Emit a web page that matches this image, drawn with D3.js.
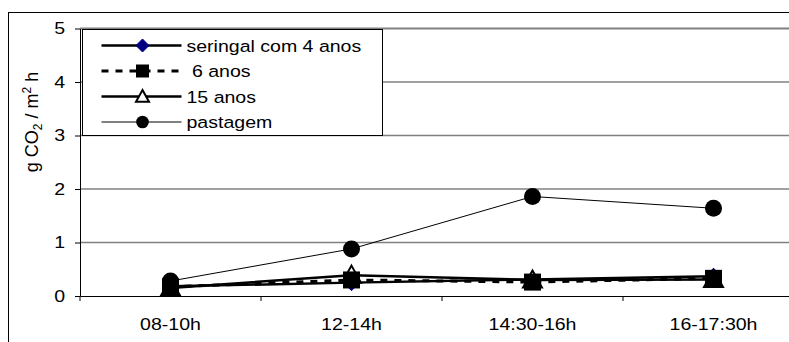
<!DOCTYPE html>
<html>
<head>
<meta charset="utf-8">
<script src="https://cdn.jsdelivr.net/npm/d3@7"></script>
<style>
  body { margin: 0; background: #fff; }
  svg { display: block; font-family: "Liberation Sans", Arial, sans-serif; }
  text { white-space: pre; }
</style>
</head>
<body>
<div id="chart"></div>
<script>
const categories = ["08-10h", "12-14h", "14:30-16h", "16-17:30h"]
const seriesNames = ["seringal com 4 anos", " 6 anos", "15 anos", "pastagem"]
const seringal4 = [0.18, 0.25, 0.31, 0.37]
const seringal6 = [0.17, 0.30, 0.26, 0.33]
const seringal15 = [0.15, 0.39, 0.30, 0.31]
const pastagem = [0.28, 0.88, 1.86, 1.64]
const yTicks = [0, 1, 2, 3, 4, 5]

const W = 789, H = 342
const SX = 1.15 // text in the source looks a bit wide
const fs = 17

const margin = { top: 28.5, left: 80 }
const plotW = 724, plotH = 267.5

const svg = d3.select("#chart").append("svg")
    .attr("width", W)
    .attr("height", H)

// outer chart frame (runs off the right/bottom edge like the source)
svg.append("rect")
    .attr("x", 8.5).attr("y", 12.5)
    .attr("width", 820).attr("height", 360)
    .attr("fill", "#fff")
    .attr("stroke", "#000")

const g = svg.append("g")
    .attr("transform", `translate(${margin.left}, ${margin.top})`)

/* scales */
const x = d3.scaleBand()
    .domain(categories)
    .range([0, plotW])
const y = d3.scaleLinear()
    .domain([0, 5])
    .range([plotH, 0])

/* gridlines */
g.selectAll(".grid")
    .data(yTicks.filter(d => d > 0))
    .enter()
    .append("line")
    .attr("x1", 0).attr("x2", plotW)
    .attr("y1", d => y(d)).attr("y2", d => y(d))
    .attr("stroke", "#808080")
    .attr("stroke-width", d => d === 5 ? 2 : 1.5)

/* y axis */
const yAxis = g.append("g")
    .call(d3.axisLeft(y).tickValues(yTicks).tickFormat(d3.format("d"))
        .tickSize(5).tickSizeOuter(0).tickPadding(8))
yAxis.select(".domain").attr("stroke", "#000")
yAxis.selectAll("text")
    .attr("font-size", fs)
    .attr("font-family", "Liberation Sans, Arial, sans-serif")
    .attr("fill", "#000")
    .attr("transform", `scale(${SX},1)`)

/* x axis: labels in the middle of each band, ticks between bands */
const xAxis = g.append("g")
    .attr("transform", `translate(0, ${plotH})`)
    .call(d3.axisBottom(x).tickSize(0).tickSizeOuter(0).tickPadding(22))
xAxis.select(".domain").attr("stroke", "#000")
xAxis.selectAll("text")
    .attr("font-size", fs)
    .attr("font-family", "Liberation Sans, Arial, sans-serif")
    .attr("fill", "#000")
    .attr("transform", `scale(${SX},1)`)

g.selectAll(".xtick")
    .data(categories)
    .enter()
    .append("line")
    .attr("x1", d => x(d)).attr("x2", d => x(d))
    .attr("y1", plotH).attr("y2", plotH + 5)
    .attr("stroke", "#000")

/* y title */
const yTitle = svg.append("text")
    .attr("transform", "translate(38, 122) rotate(-90)")
    .attr("text-anchor", "middle")
    .attr("font-size", 18)
    .attr("fill", "#000")
yTitle.append("tspan").text("g CO")
yTitle.append("tspan").attr("font-size", 12).attr("dy", 4).text("2")
yTitle.append("tspan").attr("dy", -4).text(" / m")
yTitle.append("tspan").attr("font-size", 12).attr("dy", -7).text("2")
yTitle.append("tspan").attr("dy", 7).text(" h")

/* markers */
function marker(sel, type, s) {
    if (type === "circle") {
        sel.append("circle").attr("r", s).attr("fill", "#000")
    } else if (type === "square") {
        sel.append("rect").attr("x", -s).attr("y", -s)
            .attr("width", 2 * s).attr("height", 2 * s).attr("fill", "#000")
    } else if (type === "diamond") {
        sel.append("path").attr("d", `M0,${-s}L${s},0L0,${s}L${-s},0Z`)
            .attr("fill", "#000080").attr("stroke", "#000080")
    } else if (type === "triangle") {
        sel.append("path").attr("d", `M0,${-s}L${s},${s * 0.8}L${-s},${s * 0.8}Z`)
            .attr("fill", "#fff").attr("stroke", "#000").attr("stroke-width", 2)
    }
}

const series = [
    { name: seriesNames[0], values: seringal4, width: 2.5, dash: null, marker: "diamond", ms: 8, ls: 6.5 },
    { name: seriesNames[1], values: seringal6, width: 3, dash: "7,7", marker: "square", ms: 8.5, ls: 6.5 },
    { name: seriesNames[2], values: seringal15, width: 2.5, dash: null, marker: "triangle", ms: 9.5, ls: 6.5 },
    { name: seriesNames[3], values: pastagem, width: 1, dash: null, marker: "circle", ms: 8.5, ls: 6.3 }
]

const line = d3.line()
    .x((d, i) => x(categories[i]) + x.bandwidth() / 2)
    .y(d => y(d))

// lines first, then markers; squares sit over the triangles in the source
series.forEach(s => {
    g.append("path")
        .datum(s.values)
        .attr("d", line)
        .attr("fill", "none")
        .attr("stroke", "#000")
        .attr("stroke-width", s.width)
        .attr("stroke-dasharray", s.dash)
})
const markerOrder = [0, 2, 1, 3]
markerOrder.forEach(k => {
    const s = series[k]
    g.selectAll(null)
        .data(s.values)
        .enter()
        .append("g")
        .attr("transform", (d, i) => `translate(${x(categories[i]) + x.bandwidth() / 2}, ${y(d)})`)
        .each(function () { marker(d3.select(this), s.marker, s.ms) })
})

/* legend */
const legend = svg.append("g").attr("transform", "translate(82.5, 29.5)")
legend.append("rect")
    .attr("width", 300).attr("height", 106)
    .attr("fill", "#fff")
    .attr("stroke", "#000")

const rows = [16, 41.5, 67, 92.5]
series.forEach((s, i) => {
    const row = legend.append("g").attr("transform", `translate(0, ${rows[i]})`)
    row.append("line")
        .attr("x1", 19).attr("x2", 99)
        .attr("stroke", "#000")
        .attr("stroke-width", s.width)
        .attr("stroke-dasharray", s.dash)
    const m = row.append("g").attr("transform", "translate(60, 0)")
    marker(m, s.marker, s.ls)
    row.append("text")
        .attr("transform", `translate(104, 6) scale(${SX},1)`)
        .attr("font-size", fs)
        .attr("fill", "#000")
        .text(s.name)
})
</script>
</body>
</html>
